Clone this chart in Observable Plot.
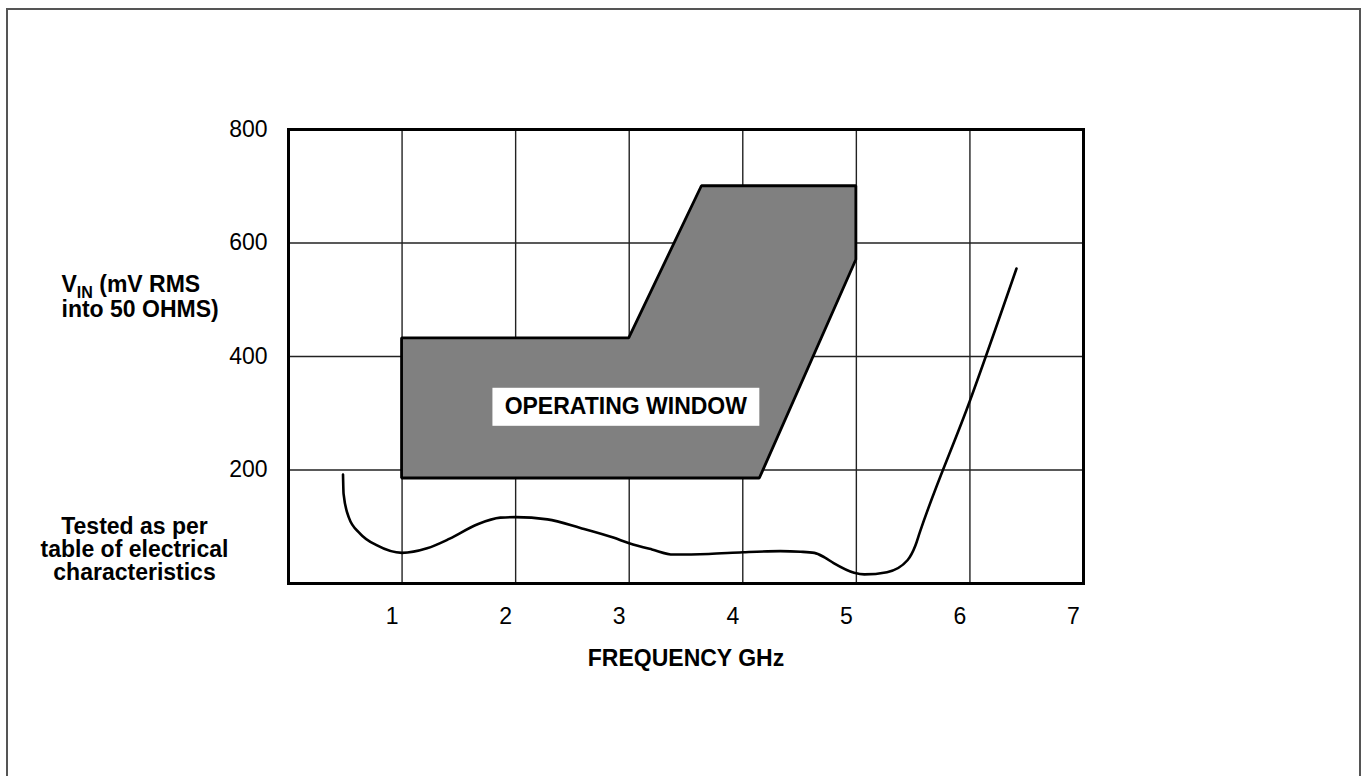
<!DOCTYPE html>
<html>
<head>
<meta charset="utf-8">
<script src="https://cdn.jsdelivr.net/npm/d3@7"></script>
<script src="https://cdn.jsdelivr.net/npm/@observablehq/plot@0.6"></script>
<style>
  html, body { margin: 0; padding: 0; background: white; overflow: hidden; }
  #wrap { position: relative; width: 1363px; height: 776px; }
  #outer { position: absolute; left: 6px; top: 8px; width: 1351px; height: 900px;
           border: 2px solid #555; pointer-events: none; z-index: 5; }
  svg { display: block; }
</style>
</head>
<body>
<div id="wrap"><div id="outer"></div></div>
<script>
// ---- data ----
const xTicks = [1, 2, 3, 4, 5, 6, 7];
const yTicks = [200, 400, 600, 800];
const gridX = [1, 2, 3, 4, 5, 6];
const gridY = [200, 400, 600];

// operating window polygon (GHz, mV)
const windowX    = [1, 3, 3.64, 4.15, 5];
const windowLow  = [185, 185, 185, 185, 570];
const windowHigh = [432, 432, 700, 700, 700];

// "tested as per table" curve
const testedX = [0.48, 0.485, 0.53, 0.63, 0.78, 1.0, 1.22, 1.42, 1.66, 1.865, 2.0, 2.28, 2.57, 2.86, 3.0, 3.2, 3.39, 3.7, 4.0, 4.33, 4.51, 4.63, 4.72, 4.8, 4.98, 5.07, 5.27, 5.45, 5.52, 5.56, 6.0, 6.41];
const testedY = [192, 158, 117, 88, 67, 54, 62, 79, 104, 116, 117, 113, 98, 81, 71, 60, 51, 52, 55, 57, 56, 54, 46, 36, 19, 16, 20, 41, 67, 91, 322, 555];

const windowLabel = "OPERATING WINDOW";
const windowLabelBox = {x1: 1.8, x2: 4.15, y1: 277, y2: 344, x: 2.97, y: 311};
const xLabel = "FREQUENCY GHz";
const yLabel = "VIN (mV RMS\ninto 50 OHMS)";
const noteLabel = "Tested as per\ntable of electrical\ncharacteristics";

// ---- build tables ----
const windowData = windowX.map((x, i) => ({x, low: windowLow[i], high: windowHigh[i]}));
const tested = testedX.map((x, i) => ({x, y: testedY[i]}));

const font = "'Liberation Sans', Arial, Helvetica, sans-serif";

const chart = Plot.plot({
  width: 1363,
  height: 776,
  marginLeft: 288,
  marginRight: 280,
  marginTop: 129,
  marginBottom: 193,
  x: {domain: [0, 7]},
  y: {domain: [0, 800]},
  style: {fontFamily: font, background: "transparent", color: "black"},
  marks: [
    Plot.ruleX(gridX, {stroke: "#222", strokeWidth: 1.4}),
    Plot.ruleY(gridY, {stroke: "#222", strokeWidth: 1.4}),
    Plot.areaY(windowData, {x: "x", y1: "low", y2: "high", fill: "#808080", stroke: "black", strokeWidth: 2.8, strokeLinejoin: "miter"}),
    Plot.line(tested, {x: "x", y: "y", curve: "monotone-x", stroke: "black", strokeWidth: 2.6}),
    Plot.rect([windowLabelBox], {x1: "x1", x2: "x2", y1: "y1", y2: "y2", fill: "white"}),
    Plot.text([windowLabel], {x: () => windowLabelBox.x, y: () => windowLabelBox.y, fontWeight: "bold", fontSize: 23, fill: "black"}),
    Plot.frame({stroke: "black", strokeWidth: 3}),
    Plot.axisX(xTicks, {tickSize: 0, tickPadding: 24, dx: -10, fontSize: 23, tickFormat: d => String(d), label: null}),
    Plot.axisY(yTicks, {tickSize: 0, tickPadding: 21, fontSize: 23, tickFormat: d => String(d), label: null}),
    Plot.text([xLabel], {frameAnchor: "bottom", dy: 82, fontWeight: "bold", fontSize: 23}),
    Plot.text([yLabel], {frameAnchor: "top-left", dx: -227, dy: 167, textAnchor: "start", lineAnchor: "middle", lineHeight: 1.06, fontWeight: "bold", fontSize: 23}),
    Plot.text([noteLabel], {frameAnchor: "bottom-left", dx: -154, dy: -34, textAnchor: "middle", lineAnchor: "middle", lineHeight: 1.0, fontWeight: "bold", fontSize: 23})
  ]
});

// subscript "IN" in the y label
const ns = "http://www.w3.org/2000/svg";
chart.querySelectorAll("tspan, text").forEach(el => {
  if (el.children.length === 0 && el.textContent === "VIN (mV RMS") {
    el.textContent = "";
    const a = document.createElementNS(ns, "tspan"); a.textContent = "V"; el.appendChild(a);
    const b = document.createElementNS(ns, "tspan"); b.textContent = "IN"; b.setAttribute("font-size", "16"); b.setAttribute("dy", "6"); el.appendChild(b);
    const c = document.createElementNS(ns, "tspan"); c.textContent = " (mV RMS"; c.setAttribute("dy", "-6"); el.appendChild(c);
  }
});

document.getElementById("wrap").appendChild(chart);
</script>
</body>
</html>
